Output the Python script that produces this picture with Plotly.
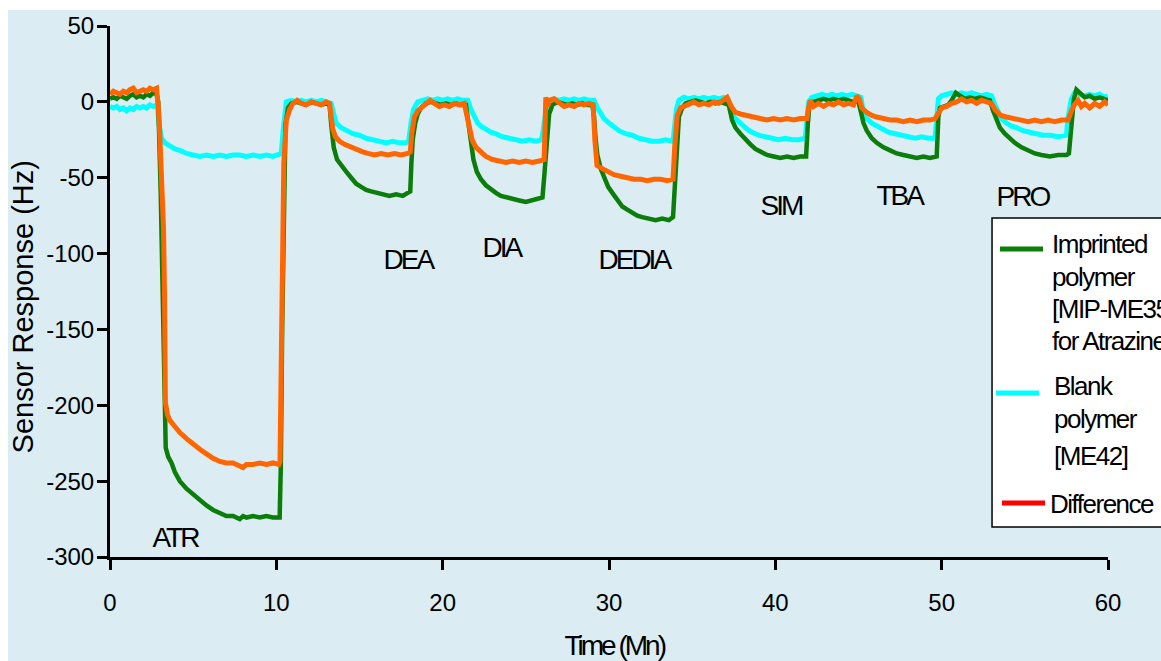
import plotly.graph_objects as go

# Imprinted polymer MIP-ME35 (for atrazine)
t_mip = [0, 0.2, 0.4, 0.6, 0.8, 1.0, 1.2, 1.4, 1.6, 1.8, 2.0, 2.2, 2.4, 2.6, 2.8,
         2.9, 3.05, 3.2, 3.3, 3.35, 3.5, 3.7, 3.9, 4.2, 4.6, 5.0, 5.4, 5.8, 6.2, 6.6, 7.0, 7.4, 7.8, 8.0, 8.2, 8.6, 9.0, 9.4, 9.8, 10.2,
         10.27, 10.35, 10.45, 10.55, 10.7, 10.9, 11.2, 11.5, 11.8, 12.1, 12.4, 12.7, 13.0, 13.2,
         13.3, 13.45, 13.65, 13.9, 14.2, 14.5, 14.8, 15.1, 15.4, 15.7, 16.0, 16.4, 16.8, 17.2, 17.6, 17.9, 18.05,
         18.12, 18.2, 18.35, 18.5, 18.7, 19.0, 19.3, 19.6, 19.9, 20.2, 20.5, 20.8, 21.1, 21.4,
         21.55, 21.7, 21.85, 22.05, 22.3, 22.6, 22.9, 23.2, 23.5, 23.8, 24.2, 24.6, 25.0, 25.4, 25.8, 26.0,
         26.1, 26.2, 26.3, 26.4, 26.6, 26.9, 27.2, 27.5, 27.8, 28.1, 28.4, 28.7, 29.0,
         29.1, 29.2, 29.3, 29.5, 29.7, 29.95, 30.2, 30.5, 30.8, 31.1, 31.4, 31.7, 32.0, 32.4, 32.8, 33.2, 33.6, 33.85,
         33.95, 34.05, 34.2, 34.4, 34.6, 34.9, 35.2, 35.5, 35.8, 36.1, 36.4, 36.7, 37.0, 37.2,
         37.4, 37.6, 37.9, 38.2, 38.5, 38.8, 39.1, 39.5, 39.9, 40.3, 40.7, 41.1, 41.5, 41.85,
         41.95, 42.05, 42.3, 42.6, 42.9, 43.2, 43.5, 43.8, 44.1, 44.4, 44.7, 45.0,
         45.15, 45.3, 45.5, 45.8, 46.1, 46.5, 46.9, 47.3, 47.7, 48.1, 48.5, 48.9, 49.3, 49.7,
         49.8, 49.9, 50.1, 50.4, 50.6, 50.85, 51.1, 51.4, 51.7, 52.0, 52.3, 52.6, 52.9,
         53.1, 53.3, 53.5, 53.8, 54.1, 54.4, 54.8, 55.2, 55.6, 56.0, 56.5, 57.0, 57.5, 57.65,
         57.8, 57.95, 58.1, 58.3, 58.6, 58.9, 59.2, 59.5, 59.8, 60.0]
v_mip = [2, 3, 2, 4, 3, 2, 4, 5, 3, 4, 3, 5, 4, 6, 5,
         0, -60, -150, -222, -228, -234, -238, -244, -250, -255, -259, -263, -266, -269, -271, -273, -273, -275, -273, -274, -273, -274, -273, -274, -274,
         -240, -150, -60, -15, -4, -1, 0, -1, -2, 0, -1, -2, -1, -2,
         -15, -30, -38, -42, -46, -50, -54, -56, -58, -59, -60, -61, -62, -61, -62, -60, -59,
         -40, -25, -14, -8, -4, -1, 0, -1, -2, -1, -2, -1, -2, -2,
         -15, -28, -38, -46, -51, -55, -58, -60, -62, -63, -64, -65, -66, -65, -64, -63,
         -50, -36, -18, -8, -2, 0, -1, -2, -1, -2, -1, -2, -2,
         -10, -25, -35, -44, -50, -56, -60, -65, -69, -71, -73, -75, -76, -77, -78, -77, -78, -76,
         -60, -38, -10, -4, -1, 0, 1, 0, -1, 0, -1, 0, -1, -2,
         -12, -17, -21, -25, -28, -31, -33, -35, -36, -37, -36, -37, -36, -36,
         -15, -2, 0, 1, 2, 1, 2, 1, 2, 1, 0, 0,
         -8, -14, -19, -24, -27, -30, -32, -34, -35, -36, -37, -36, -37, -36,
         -10, -4, -3, -2, 1, 6, 4, 2, 3, 2, 3, 2, 1,
         -6, -12, -17, -21, -24, -27, -30, -32, -34, -35, -36, -35, -35, -34,
         -15, 2, 8, 6, 3, 4, 2, 3, 2, 1]

# Blank polymer ME42
t_blank = [0, 0.2, 0.4, 0.6, 0.8, 1.0, 1.2, 1.4, 1.6, 1.8, 2.0, 2.2, 2.4, 2.6, 2.85,
           2.95, 3.1, 3.3, 3.6, 3.9, 4.2, 4.6, 5.0, 5.4, 5.8, 6.2, 6.6, 7.0, 7.4, 7.8, 8.2, 8.6, 9.0, 9.4, 9.8, 10.2, 10.3,
           10.4, 10.5, 10.6, 10.9, 11.2, 11.5, 11.8, 12.1, 12.4, 12.7, 13.0, 13.3,
           13.45, 13.6, 13.9, 14.2, 14.6, 15.0, 15.4, 15.8, 16.2, 16.6, 17.0, 17.4, 17.8, 17.95,
           18.1, 18.25, 18.5, 18.8, 19.1, 19.4, 19.7, 20.0, 20.3, 20.6, 20.9, 21.2, 21.5,
           21.7, 21.9, 22.1, 22.3, 22.6, 22.9, 23.2, 23.6, 24.0, 24.4, 24.8, 25.2, 25.6, 25.95,
           26.1, 26.25, 26.4, 26.7, 27.0, 27.3, 27.6, 27.9, 28.2, 28.5, 28.8, 29.1,
           29.3, 29.5, 29.7, 30.0, 30.3, 30.6, 31.0, 31.4, 31.8, 32.2, 32.6, 33.0, 33.4, 33.85,
           33.95, 34.05, 34.2, 34.5, 34.8, 35.1, 35.4, 35.7, 36.0, 36.3, 36.6, 36.9, 37.15,
           37.3, 37.5, 37.7, 38.0, 38.3, 38.6, 39.0, 39.4, 39.8, 40.2, 40.6, 41.0, 41.4, 41.8,
           41.9, 42.0, 42.2, 42.5, 42.8, 43.1, 43.4, 43.7, 44.0, 44.3, 44.6, 44.9, 45.15,
           45.3, 45.5, 45.8, 46.1, 46.4, 46.8, 47.2, 47.6, 48.0, 48.4, 48.8, 49.2, 49.6,
           49.7, 49.8, 50.0, 50.3, 50.6, 50.9, 51.2, 51.5, 51.8, 52.1, 52.4, 52.7, 53.0,
           53.2, 53.4, 53.6, 53.9, 54.2, 54.5, 54.9, 55.3, 55.7, 56.1, 56.5, 57.0, 57.5,
           57.6, 57.8, 58.0, 58.3, 58.6, 58.9, 59.2, 59.5, 59.8, 60.0]
v_blank = [-3, -4, -3, -5, -4, -6, -4, -5, -3, -4, -3, -4, -2, -3, -2,
           -15, -24, -27, -29, -31, -32, -34, -35, -36, -35, -36, -35, -36, -35, -35, -36, -35, -36, -35, -36, -35, -34,
           -20, -6, 0, 1, 0, 1, 0, 1, 0, 1, 0, -1,
           -8, -14, -17, -19, -21, -22, -24, -25, -26, -27, -26, -27, -27, -26,
           -14, -5, 0, 1, 2, 1, 2, 1, 2, 1, 2, 1, 1,
           -5, -10, -14, -16, -18, -20, -21, -23, -24, -25, -26, -25, -26, -25,
           -12, -3, 1, 2, 1, 2, 1, 2, 1, 2, 1, 1,
           -4, -8, -11, -14, -17, -19, -21, -22, -24, -25, -26, -26, -25, -26,
           -15, -5, 1, 3, 2, 3, 2, 3, 2, 3, 2, 3, 2,
           -6, -10, -12, -16, -18, -20, -22, -23, -24, -25, -24, -25, -25, -24,
           -12, 0, 3, 4, 5, 4, 5, 4, 5, 4, 5, 4, 3,
           -8, -11, -14, -16, -18, -20, -21, -22, -23, -24, -23, -24, -24,
           -12, 2, 4, 5, 6, 5, 6, 5, 6, 5, 4, 5, 4,
           -2, -7, -11, -14, -16, -17, -19, -20, -21, -22, -22, -23, -22,
           -10, 2, 6, 5, 4, 5, 4, 5, 3, 4]

# Difference between the two sensors
t_diff = [0, 0.2, 0.4, 0.6, 0.8, 1.0, 1.2, 1.4, 1.6, 1.8, 2.0, 2.2, 2.4, 2.6, 2.8,
          2.95, 3.05, 3.15, 3.22, 3.28, 3.33, 3.45, 3.6, 3.9, 4.2, 4.6, 5.0, 5.4, 5.8, 6.2, 6.6, 7.0, 7.4, 7.8, 8.0, 8.2, 8.6, 9.0, 9.4, 9.8, 10.15, 10.22,
          10.28, 10.35, 10.45, 10.6, 10.8, 11.0, 11.25, 11.5, 11.8, 12.1, 12.4, 12.7, 13.0, 13.2,
          13.3, 13.4, 13.55, 13.8, 14.1, 14.5, 14.85, 15.2, 15.5, 15.9, 16.3, 16.7, 17.1, 17.5, 17.9, 18.05,
          18.15, 18.3, 18.5, 18.7, 19.0, 19.25, 19.5, 19.8, 20.1, 20.4, 20.7, 21.0, 21.3,
          21.45, 21.6, 21.77, 22.0, 22.27, 22.6, 23.0, 23.4, 23.8, 24.2, 24.6, 25.0, 25.4, 25.8, 26.1,
          26.16, 26.2, 26.3, 26.45, 26.7, 27.0, 27.3, 27.6, 27.9, 28.2, 28.5, 28.8, 29.05,
          29.15, 29.28, 29.6, 29.9, 30.3, 30.7, 31.1, 31.5, 31.9, 32.3, 32.7, 33.1, 33.5, 33.85,
          33.95, 34.1, 34.3, 34.5, 34.8, 35.1, 35.4, 35.7, 36.0, 36.3, 36.6, 36.9, 37.1,
          37.35, 37.6, 37.9, 38.3, 38.7, 39.1, 39.5, 39.9, 40.3, 40.7, 41.1, 41.5, 41.9,
          42.0, 42.1, 42.3, 42.6, 42.9, 43.2, 43.5, 43.8, 44.1, 44.4, 44.7, 44.9, 45.05,
          45.2, 45.5, 45.8, 46.1, 46.5, 46.9, 47.3, 47.7, 48.1, 48.5, 48.9, 49.3, 49.6,
          49.8, 50.0, 50.3, 50.6, 50.9, 51.2, 51.5, 51.8, 52.1, 52.4, 52.7, 53.0,
          53.2, 53.56, 53.9, 54.3, 54.8, 55.2, 55.6, 56.0, 56.4, 56.8, 57.2, 57.6,
          57.8, 57.97, 58.2, 58.4, 58.6, 58.9, 59.2, 59.5, 59.8, 60.0]
v_diff = [5, 7, 6, 5, 7, 6, 8, 9, 6, 7, 8, 7, 9, 8, 9,
          -10, -33, -60, -84, -130, -198, -206, -210, -214, -218, -222, -226, -229, -232, -235, -237, -238, -238, -240, -241, -239, -239, -238, -239, -238, -239, -237,
          -170, -90, -40, -12, -5, -1, 1, -1, -2, 0, -1, -2, 0, -1,
          -10, -18, -23, -26, -28, -30, -31, -33, -34, -35, -34, -35, -34, -35, -34, -33,
          -20, -10, -6, -4, -1, 1, -1, -3, -2, -3, -1, -2, -1,
          -10, -18, -25, -30, -33, -36, -38, -39, -40, -39, -40, -39, -40, -39, -38,
          -15, 3, -3, 1, 2, -1, -3, -2, -3, -1, -2, -1, -2,
          -25, -42, -44, -46, -48, -49, -50, -51, -51, -52, -51, -51, -52, -51,
          -30, -9, -4, -3, -1, 0, -2, -1, -2, 0, -1, 1, 3,
          -3, -7, -8, -9, -10, -11, -12, -11, -12, -11, -12, -11, -11,
          -4, 1, -3, -1, -3, -1, -2, 0, -2, -1, -2, 4, 2,
          -4, -7, -9, -10, -11, -12, -12, -13, -12, -13, -12, -12, -11,
          -7, -4, -3, -1, 0, 2, 0, 1, -1, 1, 0, -1,
          -5, -9, -10, -11, -12, -13, -12, -13, -12, -13, -12, -12,
          -6, -2, 1, -3, -1, -4, -1, -3, 0, -2]

x_ticks = [0, 10, 20, 30, 40, 50, 60]
x_tick_text = ["0", "10", "20", "30", "40", "50", "60"]
y_ticks = [50, 0, -50, -100, -150, -200, -250, -300]
y_tick_text = ["50", "0", "-50", "-100", "-150", "-200", "-250", "-300"]

analyte_labels = ["ATR", "DEA", "DIA", "DEDIA", "SIM", "TBA", "PRO"]

legend_entries = [
    ("#0a7d0a", ["Imprinted", "polymer", "[MIP-ME35]", "for Atrazine"]),
    ("#00ffff", ["Blank", "polymer", "[ME42]"]),
    ("#ff0000", ["Difference"]),
]

BG = "#dbedf3"
FONT = "Liberation Sans, Arial, sans-serif"

fig = go.Figure()
fig.add_trace(go.Scatter(x=t_blank, y=v_blank, mode="lines", showlegend=False,
                         line=dict(color="#00ffff", width=5)))
fig.add_trace(go.Scatter(x=t_mip, y=v_mip, mode="lines", showlegend=False,
                         line=dict(color="#0a7d0a", width=4.5)))
fig.add_trace(go.Scatter(x=t_diff, y=v_diff, mode="lines", showlegend=False,
                         line=dict(color="#ff6600", width=5)))

axis_common = dict(showgrid=False, zeroline=False, showline=True, linecolor="black",
                   linewidth=3, ticks="outside", ticklen=10, tickwidth=2.5,
                   tickcolor="black", tickfont=dict(family=FONT, size=24, color="black"))

fig.update_xaxes(range=[0, 60], tickvals=x_ticks, ticktext=x_tick_text,
                 ticklabelstandoff=12, **axis_common)
fig.update_yaxes(range=[-300, 50], tickvals=y_ticks, ticktext=y_tick_text,
                 ticklabelstandoff=-2, **axis_common)

annotations = []
# analyte names beside each response step
label_pos = [(3.91, -287), (17.92, -103.6), (23.51, -96.3), (31.5, -103.6),
             (40.34, -68), (47.47, -62), (54.83, -62.7)]
for name, (lx, ly) in zip(analyte_labels, label_pos):
    annotations.append(dict(x=lx, y=ly, xref="x", yref="y", text=name, showarrow=False,
                            font=dict(family=FONT, size=28, color="black"),
                            xanchor="center", yanchor="middle"))

# axis titles
annotations.append(dict(x=-0.0862, y=0.4718, xref="paper", yref="paper",
                        text="Sensor Response (Hz)", textangle=-90, showarrow=False,
                        font=dict(family=FONT, size=29, color="black"),
                        xanchor="center", yanchor="middle"))
annotations.append(dict(x=0.5060, y=-0.1676, xref="paper", yref="paper",
                        text="Time (Mn)", showarrow=False,
                        font=dict(family=FONT, size=28, color="black"),
                        xanchor="center", yanchor="middle"))

shapes = [
    # white margin along the top and left edges
    dict(type="rect", xref="paper", yref="paper", x0=-0.2, x1=1.2, y0=1.0301, y1=1.1,
         fillcolor="white", line=dict(width=0), layer="below"),
    dict(type="rect", xref="paper", yref="paper", x0=-0.2, x1=-0.1022, y0=-0.3, y1=1.1,
         fillcolor="white", line=dict(width=0), layer="below"),
    # legend frame
    dict(type="rect", xref="paper", yref="paper", x0=0.8838, x1=1.1, y0=0.0565, y1=0.6384,
         fillcolor="white", line=dict(color="black", width=1.5), layer="above"),
]

# legend keys and wrapped text
key_rows = [(0.8918, 0.5800, [0.5895, 0.5273, 0.4670, 0.4068]),
            (0.8878, 0.3089, [0.3220, 0.2599, 0.1902]),
            (0.8938, 0.1017, [0.0998])]
text_x = [0.9419, 0.9439, 0.9399]
for (color, lines), (kx, ky, ys), tx in zip(legend_entries, key_rows, text_x):
    shapes.append(dict(type="line", xref="paper", yref="paper", x0=kx, x1=kx + 0.0431,
                       y0=ky, y1=ky, line=dict(color=color, width=5), layer="above"))
    for line_text, yy in zip(lines, ys):
        annotations.append(dict(x=tx, y=yy, xref="paper", yref="paper", text=line_text,
                                showarrow=False, xanchor="left", yanchor="middle", align="left",
                                font=dict(family=FONT, size=26, color="black")))

fig.update_layout(
    width=1161, height=661,
    margin=dict(l=110, r=53, t=26, b=104),
    paper_bgcolor=BG, plot_bgcolor=BG,
    showlegend=False,
    annotations=annotations,
    shapes=shapes,
)

# tight letter spacing for the horizontal labels, legend text and x title
tighten_js = """
var gd = document.getElementById('{plot_id}');
function tighten() {
  gd.querySelectorAll('text.annotation-text').forEach(function (t) {
    if (t.textContent === 'Sensor Response (Hz)') return;
    var fs = parseFloat(t.style.fontSize);
    t.style.letterSpacing = fs >= 28 ? '-3px' : '-1.5px';
  });
}
tighten();
gd.on('plotly_afterplot', tighten);
"""

fig.write_html("out.html", post_script=tighten_js)
